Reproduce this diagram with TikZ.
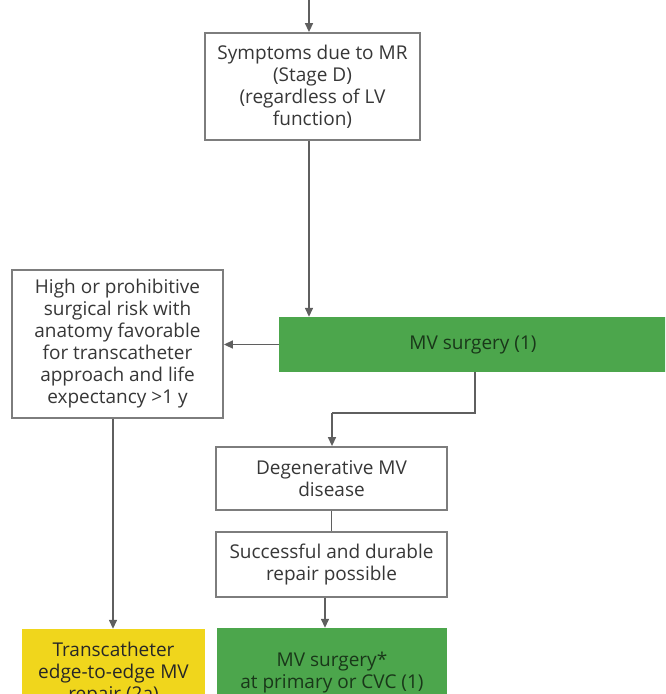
\documentclass[tikz,border=0pt]{standalone}
\usepackage{fontspec}
\setmainfont{Open Sans}
\usetikzlibrary{arrows.meta}
\definecolor{boxline}{RGB}{125,125,125}
\definecolor{conline}{RGB}{95,95,95}
\definecolor{txt}{RGB}{55,55,55}
\definecolor{mvgreen}{RGB}{76,166,76}
\definecolor{mvyellow}{RGB}{240,214,28}
\definecolor{greentxt}{RGB}{25,55,25}
\tikzset{
  base/.style={rectangle, align=center, inner sep=2pt, font=\fontsize{19}{22}\selectfont},
  wbox/.style={base, draw=boxline, line width=1.8pt, fill=white, text=txt},
  gbox/.style={base, fill=mvgreen, text=greentxt},
  ybox/.style={base, fill=mvyellow, text=txt!70!black},
  con/.style={draw=conline, line width=1.4pt},
  arr/.style={con, -{Triangle[length=9pt,width=8pt]}},
}
\begin{document}
\begin{tikzpicture}[x=1pt,y=-1pt]
\useasboundingbox (0,0) rectangle (665,694);
\clip (0,0) rectangle (665,694);
\node[wbox, minimum width=215pt, minimum height=107pt] (sym) at (312.5,86.5)
  {Symptoms due to MR\\(Stage D)\\(regardless of LV\\function)};
\node[wbox, minimum width=211pt, minimum height=148pt] (risk) at (117.5,344)
  {High or prohibitive\\surgical risk with\\anatomy favorable\\for transcatheter\\approach and life\\expectancy >1 y};
\node[gbox, minimum width=388pt, minimum height=55pt] (mvs) at (473,344.5) {MV surgery (1)};
\node[wbox, minimum width=231pt, minimum height=63pt] (deg) at (331.5,478.5)
  {Degenerative MV\\disease};
\node[wbox, minimum width=231pt, minimum height=65pt] (rep) at (331.5,564.5)
  {Successful and durable\\repair possible};
\node[ybox, minimum width=183pt, minimum height=90pt] (tr) at (113.5,674)
  {Transcatheter\\edge-to-edge MV\\repair (2a)};
\node[gbox, minimum width=230pt, minimum height=90pt] (mvs2) at (332,673)
  {MV surgery*\\at primary or CVC (1)};
\coordinate (top) at (309,0);
\coordinate (bend1) at (475,413);
\coordinate (bend2) at (332,413);
\draw[arr] (top) -- (top |- sym.north);
\draw[arr] (sym.south -| top) -- (mvs.north -| top);
\draw[arr] (mvs.west) -- (risk.east |- mvs.west);
\draw[con] (mvs.south -| bend1) -- (bend1) -- (bend2);
\draw[arr] (bend2) -- (bend2 |- deg.north);
\draw[con] (deg.south) -- (rep.north);
\draw[arr] (risk.south -| 113,0) -- (tr.north -| 113,0);
\draw[arr] (rep.south -| 325,0) -- (mvs2.north -| 325,0);
\end{tikzpicture}
\end{document}
